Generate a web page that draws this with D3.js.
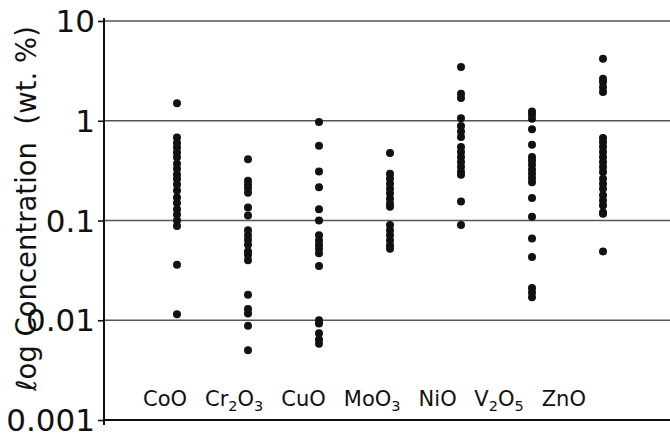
<!DOCTYPE html>
<html>
<head>
<meta charset="utf-8">
<script src="https://cdn.jsdelivr.net/npm/d3@7"></script>
<style>
  html, body { margin: 0; padding: 0; background: #fff; }
  svg { display: block; font-family: "DejaVu Sans", Verdana, sans-serif; }
</style>
</head>
<body>
<svg id="chart" width="670" height="435"></svg>
<script>
// Oxide concentrations (wt. %) per catalyst component
const categories = ["CoO", "Cr2O3", "CuO", "MoO3", "NiO", "V2O5", "ZnO"];

const coo   = [1.5, 0.68, 0.6, 0.54, 0.48, 0.43, 0.37, 0.33, 0.29, 0.26, 0.23, 0.2, 0.17, 0.15, 0.13, 0.115, 0.1, 0.088, 0.036, 0.0115];
const cr2o3 = [0.41, 0.25, 0.23, 0.21, 0.19, 0.135, 0.112, 0.08, 0.071, 0.064, 0.057, 0.049, 0.045, 0.04, 0.018, 0.013, 0.0117, 0.0088, 0.005];
const cuo   = [0.97, 0.56, 0.31, 0.215, 0.13, 0.1, 0.071, 0.063, 0.057, 0.052, 0.047, 0.035, 0.01, 0.0093, 0.0074, 0.0064, 0.0058];
const moo3  = [0.475, 0.295, 0.263, 0.234, 0.208, 0.186, 0.165, 0.147, 0.137, 0.09, 0.08, 0.071, 0.063, 0.056, 0.052];
const nio   = [3.45, 1.86, 1.69, 1.06, 0.885, 0.78, 0.686, 0.545, 0.486, 0.433, 0.386, 0.344, 0.307, 0.288, 0.155, 0.09];
const v2o5  = [1.24, 1.15, 1.05, 0.82, 0.575, 0.433, 0.4, 0.362, 0.325, 0.295, 0.267, 0.242, 0.168, 0.109, 0.066, 0.043, 0.021, 0.019, 0.017];
const zno   = [4.18, 2.63, 2.44, 2.17, 1.94, 0.67, 0.61, 0.545, 0.486, 0.433, 0.386, 0.344, 0.307, 0.262, 0.234, 0.208, 0.179, 0.159, 0.141, 0.12, 0.117, 0.049];

const seriesValues = [coo, cr2o3, cuo, moo3, nio, v2o5, zno];

const tickValues = [0.001, 0.01, 0.1, 1, 10];
const tickLabels = ["0.001", "0.01", "0.1", "1", "10"];
const gridValues = [0.01, 0.1, 1, 10];

const axisTitle = "\u2113og Concentration\u00a0\u00a0(wt. %)";

const svg = d3.select("#chart");

const plotLeft = 104, plotRight = 670, plotTop = 21, plotBottom = 420;

const y = d3.scaleLog().domain([0.001, 10]).range([plotBottom, plotTop]);
const x = d3.scalePoint().domain(categories).range([177, 603]);

// horizontal decade lines
svg.append("g")
  .selectAll("line")
  .data(gridValues)
  .join("line")
  .attr("x1", plotLeft).attr("x2", plotRight)
  .attr("y1", d => y(d)).attr("y2", d => y(d))
  .attr("stroke", "#555")
  .attr("stroke-width", 1.6);

// baseline
svg.append("line")
  .attr("x1", plotLeft).attr("x2", plotRight)
  .attr("y1", y(0.001)).attr("y2", y(0.001))
  .attr("stroke", "#111")
  .attr("stroke-width", 2);

// y axis with ticks to the left
const yAxis = d3.axisLeft(y)
  .tickValues(tickValues)
  .tickFormat((d, i) => tickLabels[i])
  .tickSize(6)
  .tickPadding(3);

const gAxis = svg.append("g")
  .attr("transform", `translate(${plotLeft},0)`)
  .call(yAxis);

gAxis.select(".domain")
  .attr("d", `M0,${plotTop - 3}V${plotBottom + 5}`)
  .attr("stroke", "#111")
  .attr("stroke-width", 2);
gAxis.selectAll(".tick line").attr("stroke", "#111").attr("stroke-width", 1.6);
gAxis.selectAll(".tick text")
  .attr("font-family", "DejaVu Sans, Verdana, sans-serif")
  .attr("font-size", 31)
  .attr("fill", "#111")
  .attr("dy", "0.34em");

// axis title
svg.append("text")
  .attr("transform", `translate(36,${(plotTop + plotBottom) / 2 - 12}) rotate(-90)`)
  .attr("text-anchor", "middle")
  .attr("font-size", 27.5)
  .attr("fill", "#111")
  .text(axisTitle);

// dots
const dots = svg.append("g");
categories.forEach((cat, i) => {
  dots.selectAll(null)
    .data(seriesValues[i])
    .join("circle")
    .attr("cx", x(cat))
    .attr("cy", d => y(d))
    .attr("r", 4)
    .attr("fill", "#111");
});

// category names in one running line, digits set as subscripts
const labelRow = svg.append("text")
  .attr("x", 143)
  .attr("y", 406)
  .attr("font-size", 21)
  .attr("fill", "#111");

const subShift = 5;
let shift = 0;
categories.forEach((cat, i) => {
  const parts = cat.split(/(\d+)/).filter(p => p.length);
  parts.forEach((p, j) => {
    const isSub = /^\d+$/.test(p);
    const want = isSub ? subShift : 0;
    const t = labelRow.append("tspan").text(p);
    if (want !== shift) t.attr("dy", want - shift);
    shift = want;
    if (isSub) t.attr("font-size", 14.5);
    if (j === 0 && i > 0) t.attr("dx", 18);
  });
});
</script>
</body>
</html>
